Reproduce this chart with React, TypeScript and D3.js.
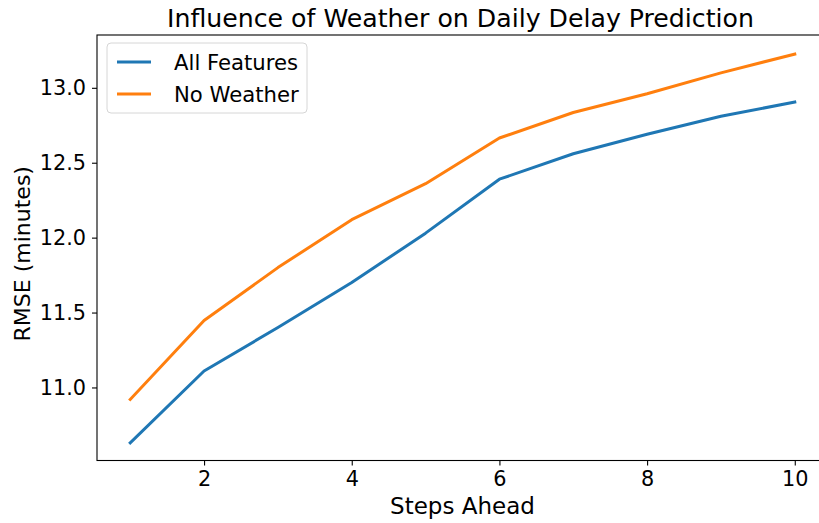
import React, { useEffect, useRef } from "react";
import * as d3 from "d3";

const steps = [1, 2, 3, 4, 5, 6, 7, 8, 9, 10];
const allFeatures = [10.63, 11.11, 11.4, 11.7, 12.03, 12.39, 12.56, 12.69, 12.81, 12.905];
const noWeather = [10.92, 11.447, 11.8, 12.12, 12.36, 12.665, 12.835, 12.96, 13.1, 13.225];
const xTicks = [2, 4, 6, 8, 10];
const yTicks = [11.0, 11.5, 12.0, 12.5, 13.0];

const series = [
  { name: "All Features", values: allFeatures, color: "#1f77b4" },
  { name: "No Weather", values: noWeather, color: "#ff7f0e" },
];

const W = 819;
const H = 523;
const FONT = "DejaVu Sans, sans-serif";

const App = () => {
  const ref = useRef<SVGSVGElement>(null);

  useEffect(() => {
    const svg = d3.select(ref.current);
    svg.selectAll("*").remove();

    const left = 97;
    const right = 828;
    const top = 35;
    const bottom = 460.5;

    const x = d3.scaleLinear().domain([0.55, 10.45]).range([left, right]);
    const y = d3.scaleLinear().domain([10.5125, 13.3525]).range([bottom, top]);

    svg.append("rect").attr("width", W).attr("height", H).attr("fill", "#fff");

    // lines
    const line = d3
      .line<number>()
      .x((_, i) => x(steps[i]))
      .y((d) => y(d));

    series.forEach((s) => {
      svg
        .append("path")
        .attr("d", line(s.values))
        .attr("fill", "none")
        .attr("stroke", s.color)
        .attr("stroke-width", 3)
        .attr("stroke-linecap", "square")
        .attr("stroke-linejoin", "round");
    });

    // axes
    const xAxis = svg
      .append("g")
      .attr("transform", `translate(0,${bottom})`)
      .call(d3.axisBottom(x).tickValues(xTicks).tickSize(5).tickPadding(6).tickFormat(d3.format("d")));
    const yAxis = svg
      .append("g")
      .attr("transform", `translate(${left},0)`)
      .call(d3.axisLeft(y).tickValues(yTicks).tickSize(5).tickPadding(6).tickFormat(d3.format(".1f")));

    [xAxis, yAxis].forEach((g) => {
      g.select(".domain").remove();
      g.selectAll(".tick line").attr("stroke", "#000").attr("stroke-width", 1.1);
      g.selectAll(".tick text")
        .attr("fill", "#000")
        .style("font-family", FONT)
        .style("font-size", "20.8px");
    });

    // spines
    svg
      .append("rect")
      .attr("x", left)
      .attr("y", top)
      .attr("width", right - left)
      .attr("height", bottom - top)
      .attr("fill", "none")
      .attr("stroke", "#000")
      .attr("stroke-width", 1.1);

    // title and labels
    svg
      .append("text")
      .attr("x", (left + right) / 2 - 2)
      .attr("y", 27)
      .attr("text-anchor", "middle")
      .style("font-family", FONT)
      .style("font-size", "25.2px")
      .text("Influence of Weather on Daily Delay Prediction");

    svg
      .append("text")
      .attr("x", (left + right) / 2)
      .attr("y", 514)
      .attr("text-anchor", "middle")
      .style("font-family", FONT)
      .style("font-size", "23px")
      .text("Steps Ahead");

    svg
      .append("text")
      .attr("transform", `translate(30,${(top + bottom) / 2 + 6}) rotate(-90)`)
      .attr("text-anchor", "middle")
      .style("font-family", FONT)
      .style("font-size", "22px")
      .text("RMSE (minutes)");

    // legend
    const lg = svg.append("g").attr("transform", "translate(107,43)");
    lg.append("rect")
      .attr("width", 200)
      .attr("height", 70)
      .attr("rx", 4)
      .attr("fill", "#fff")
      .attr("fill-opacity", 0.8)
      .attr("stroke", "#d6d6d6")
      .attr("stroke-width", 1);
    series.forEach((s, i) => {
      const cy = 19 + i * 32;
      lg.append("line")
        .attr("x1", 10)
        .attr("x2", 44)
        .attr("y1", cy)
        .attr("y2", cy)
        .attr("stroke", s.color)
        .attr("stroke-width", 3);
      lg.append("text")
        .attr("x", 67)
        .attr("y", cy + 7.5)
        .style("font-family", FONT)
        .style("font-size", "21.2px")
        .text(s.name);
    });
  }, []);

  return (
    <svg
      ref={ref}
      width={W}
      height={H}
      style={{ position: "absolute", left: 0, top: 0, display: "block" }}
    />
  );
};

export default App;
